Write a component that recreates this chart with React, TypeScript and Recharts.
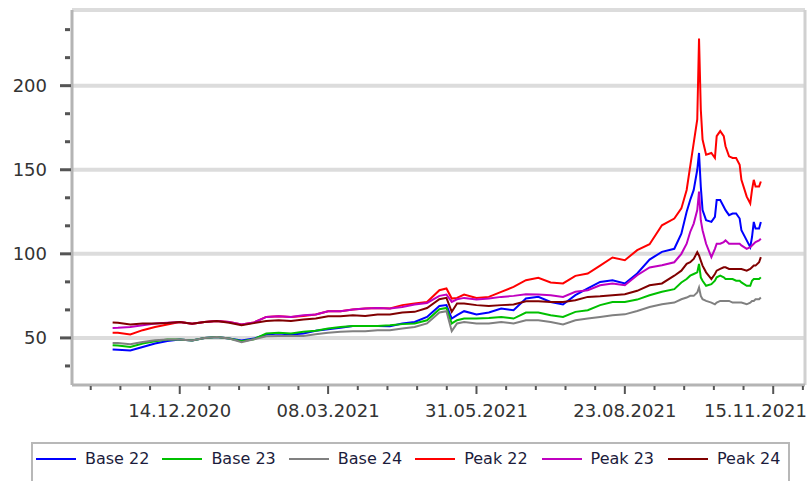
import { Line, LineChart, ReferenceLine, XAxis, YAxis } from "recharts";

// trading dates (dd.mm.yyyy), weekly until mid-September, denser around the October spike
const dates = [
  "06.11.2020", "09.11.2020", "16.11.2020", "23.11.2020", "30.11.2020", "07.12.2020",
  "14.12.2020", "21.12.2020", "28.12.2020", "04.01.2021", "11.01.2021", "18.01.2021",
  "25.01.2021", "01.02.2021", "08.02.2021", "15.02.2021", "22.02.2021", "01.03.2021",
  "08.03.2021", "15.03.2021", "22.03.2021", "29.03.2021", "05.04.2021", "12.04.2021",
  "19.04.2021", "26.04.2021", "03.05.2021", "10.05.2021", "14.05.2021", "17.05.2021",
  "20.05.2021", "24.05.2021", "31.05.2021", "07.06.2021", "14.06.2021", "21.06.2021",
  "28.06.2021", "05.07.2021", "12.07.2021", "19.07.2021", "26.07.2021", "02.08.2021",
  "09.08.2021", "16.08.2021", "23.08.2021", "30.08.2021", "06.09.2021", "13.09.2021",
  "20.09.2021", "24.09.2021", "27.09.2021", "29.09.2021", "01.10.2021", "03.10.2021",
  "04.10.2021", "05.10.2021", "06.10.2021", "08.10.2021", "11.10.2021", "13.10.2021",
  "14.10.2021", "16.10.2021", "18.10.2021", "19.10.2021", "21.10.2021", "23.10.2021",
  "25.10.2021", "27.10.2021", "28.10.2021", "31.10.2021", "02.11.2021", "03.11.2021",
  "04.11.2021", "05.11.2021", "07.11.2021", "08.11.2021",
];

const base22 = [
  43.1, 43, 42.5, 44.6, 46.7, 48.2, 49, 48.5, 50, 50.6, 49.6, 48.5,
  49.6, 52, 52.6, 52, 52.6, 54.2, 55.2, 56, 57.1, 57.1, 57.1, 57,
  58.6, 59.5, 62.5, 69, 69.5, 61.5, 63.5, 65.9, 63.9, 65.1, 67.5, 66.5,
  73.4, 74.4, 71.4, 69.9, 75.4, 79.4, 83.3, 84.3, 82.4, 88.3, 96.6, 101.2,
  103, 112, 125, 132, 138, 150, 160, 140, 126, 120, 119, 122,
  132, 132, 128, 126, 123, 124, 124, 121, 114, 108, 104, 110,
  119, 115, 115, 119,
];

const base23 = [
  45.7, 45.5, 44.6, 46.7, 48, 49, 49, 48.5, 50, 50.6, 49.6, 48,
  49.2, 52.6, 53, 52.6, 53.6, 54.2, 55.6, 56.5, 57.1, 57.1, 57.1, 57.5,
  58.2, 58.6, 60.5, 67.1, 67.8, 58.6, 60.5, 61.5, 61.5, 61.9, 62.5, 61.5,
  65.1, 65.1, 63.5, 62.5, 65.5, 66.5, 69.5, 71.4, 71.4, 72.8, 75.4, 77.4,
  79, 83, 85, 87, 88, 89, 94, 86, 84, 81, 82, 84,
  86, 87, 86, 85, 85, 85, 84, 84, 83, 81, 81, 84,
  85, 85, 85, 86,
];

const base24 = [
  47, 47, 46.3, 47.6, 48.6, 49, 49, 48.5, 50, 50.6, 49.6, 47.5,
  49.2, 51, 51.2, 51.2, 51.2, 52.2, 53, 53.6, 54, 54, 54.6, 54.6,
  55.6, 56.5, 58.6, 65.1, 65.9, 54, 58.6, 59.5, 58.6, 58.6, 59.5, 58.6,
  60.5, 60.5, 59.5, 58, 60.5, 61.5, 62.5, 63.5, 64, 66, 68.4, 70,
  71, 73, 74, 75, 75, 77, 80, 75, 73, 72, 71, 70,
  71, 72, 72, 72, 72, 71, 71, 71, 71, 70, 71, 72,
  72, 73, 73, 74,
];

const peak22 = [
  53, 53, 52, 54.6, 56.5, 58, 59.5, 58.5, 59.5, 60.1, 59.5, 58,
  59.2, 62.5, 62.9, 62.5, 63, 63.9, 65.9, 65.9, 66.9, 67.5, 67.8, 67.5,
  69.5, 70.5, 71.4, 78.4, 79.4, 73.4, 73.8, 75.8, 73.8, 74.4, 77.4, 80.3,
  84.3, 85.7, 83, 82.4, 86.9, 88.3, 93, 97.8, 96.2, 102.2, 105.7, 117,
  121, 127, 138, 152, 166, 180, 228, 186, 168, 159, 160, 157,
  170, 173, 170, 164, 158, 157, 157, 153, 144, 134, 130, 138,
  144, 140, 140, 143,
];

const peak23 = [
  55.9, 56, 56.5, 57.5, 58.6, 59, 59.5, 58.5, 59.5, 60.1, 59.5, 58,
  59.2, 62.5, 62.9, 62.5, 63.5, 63.9, 65.9, 65.9, 66.9, 67.5, 67.8, 67.5,
  68.4, 69.9, 70.8, 75, 75.8, 71.4, 73, 73.8, 72.8, 73.4, 74.4, 75,
  76, 75.8, 75.4, 74.4, 77.4, 78.4, 81.3, 82.4, 81.3, 87.3, 91.9, 93.2,
  95, 100, 106, 113, 118, 126, 137, 120, 114, 106, 98, 103,
  106, 106, 107, 108, 106, 106, 106, 106, 105, 103, 104, 105,
  106, 107, 108, 109,
];

const peak24 = [
  59.2, 59, 58, 58.6, 58.6, 58.8, 59.5, 58.5, 59.5, 60.1, 59, 57.5,
  58.8, 60.1, 60.5, 60.1, 61, 61.5, 62.9, 62.9, 63.5, 63.1, 63.9, 63.9,
  65.1, 65.5, 67.8, 73, 73.8, 65.5, 70.5, 70.5, 69.5, 69, 69.5, 69.9,
  71.8, 71.8, 71.4, 71.4, 72.4, 74.4, 74.8, 75.4, 76, 78, 81.3, 82.4,
  87, 90, 94, 95, 97, 101, 99, 96, 93, 89, 85, 88,
  90, 91, 92, 92, 91, 91, 91, 91, 91, 90, 91, 92,
  93, 93, 95, 98,
];

const xLabelDates = ["14.12.2020", "08.03.2021", "31.05.2021", "23.08.2021", "15.11.2021"];
const yLabels = [50, 100, 150, 200];

const series = [
  { key: "base22", name: "Base 22", color: "#0000ff", values: base22 },
  { key: "base23", name: "Base 23", color: "#00c000", values: base23 },
  { key: "base24", name: "Base 24", color: "#808080", values: base24 },
  { key: "peak22", name: "Peak 22", color: "#ff0000", values: peak22 },
  { key: "peak23", name: "Peak 23", color: "#c000c0", values: peak23 },
  { key: "peak24", name: "Peak 24", color: "#800000", values: peak24 },
];

const DAY = 86400000;
const FONT = "'DejaVu Sans', Verdana, sans-serif";

function toTime(s: string) {
  const [d, m, y] = s.split(".").map(Number);
  return Date.UTC(y, m - 1, d);
}

function fmt(t: number) {
  const d = new Date(t);
  const dd = String(d.getUTCDate()).padStart(2, "0");
  const mm = String(d.getUTCMonth() + 1).padStart(2, "0");
  return `${dd}.${mm}.${d.getUTCFullYear()}`;
}

const rows = dates.map((d, i) => {
  const row: Record<string, number> = { t: toTime(d) };
  series.forEach((s) => (row[s.key] = s.values[i]));
  return row;
});

const xMin = toTime("14.10.2020");
const xMax = toTime("03.12.2021");
const yMin = 22;
const yMax = 245;

// minor ticks: 5 per labelled interval on x, 3 per 50 on y
const majorTimes = xLabelDates.map(toTime);
const xStep = (84 * DAY) / 5;
const xTicks: number[] = [];
for (let t = majorTimes[0] - 4 * xStep; t <= xMax; t += xStep) {
  if (t >= xMin) xTicks.push(Math.round(t));
}
const isMajorX = (t: number) => majorTimes.some((m) => Math.abs(m - t) < DAY / 2);

const yTicks: number[] = [];
for (let v = 50 - 50 / 3; v < yMax; v += 50 / 3) yTicks.push(Math.round(v * 100) / 100);
const isMajorY = (v: number) => yLabels.some((l) => Math.abs(l - v) < 0.1);

function XTick(props: any) {
  const { x, y, payload } = props;
  const major = isMajorX(payload.value);
  const overflow = x + 52 > 808;
  return (
    <g>
      <line x1={x} x2={x} y1={y + 1} y2={y + (major ? 9 : 5)} stroke="#555" strokeWidth={2} />
      {major && (
        <text
          x={overflow ? 807 : x}
          y={y + 32}
          textAnchor={overflow ? "end" : "middle"}
          fontSize={18}
          fontFamily={FONT}
          fill="#333"
        >
          {fmt(payload.value)}
        </text>
      )}
    </g>
  );
}

function YTick(props: any) {
  const { x, y, payload } = props;
  const major = isMajorY(payload.value);
  return (
    <g>
      <rect x={x - (major ? 12 : 7)} y={y - 1.5} width={major ? 11 : 5} height={3} fill="#555" />
      {major && (
        <text x={x - 25} y={y + 6.5} textAnchor="end" fontSize={18} fontFamily={FONT} fill="#333">
          {Math.round(payload.value)}
        </text>
      )}
    </g>
  );
}

export default function App() {
  return (
    <div
      style={{
        position: "absolute",
        left: 0,
        top: 0,
        width: 810,
        height: 481,
        background: "#fff",
        overflow: "hidden",
      }}
    >
      <LineChart width={810} height={481} data={rows} margin={{ top: 10, right: 5, left: 0, bottom: 56 }}>
        <ReferenceLine y={yMax} stroke="#dcdcdc" strokeWidth={4} />
        {yLabels.map((v) => (
          <ReferenceLine key={v} y={v} stroke="#dcdcdc" strokeWidth={4} />
        ))}
        <ReferenceLine x={xMax} stroke="#d0d0d0" strokeWidth={3} />
        <XAxis
          dataKey="t"
          type="number"
          domain={[xMin, xMax]}
          ticks={xTicks}
          interval={0}
          height={40}
          tickSize={0}
          tickMargin={0}
          tickLine={false}
          tick={<XTick />}
          axisLine={{ stroke: "#b4b4b4", strokeWidth: 3 }}
          allowDataOverflow
        />
        <YAxis
          type="number"
          domain={[yMin, yMax]}
          ticks={yTicks}
          interval={0}
          width={72}
          tickSize={0}
          tickMargin={0}
          tickLine={false}
          tick={<YTick />}
          axisLine={{ stroke: "#b4b4b4", strokeWidth: 3 }}
          allowDataOverflow
        />
        {series.map((s) => (
          <Line
            key={s.key}
            dataKey={s.key}
            name={s.name}
            stroke={s.color}
            strokeWidth={2}
            dot={false}
            type="linear"
            isAnimationActive={false}
          />
        ))}
      </LineChart>
      <div
        style={{
          position: "absolute",
          left: 31,
          top: 442,
          width: 759,
          height: 60,
          border: "2px solid #b8b8b8",
          boxSizing: "border-box",
          fontFamily: FONT,
          fontSize: 16,
          color: "#1c1c3c",
        }}
      >
        {series.map((s, i) => (
          <div
            key={s.key}
            style={{
              position: "absolute",
              left: 3 + i * 126.4,
              top: 5,
              display: "flex",
              alignItems: "center",
              whiteSpace: "nowrap",
            }}
          >
            <span style={{ display: "inline-block", width: 40, height: 2, background: s.color, marginRight: 9 }} />
            <span>{s.name}</span>
          </div>
        ))}
      </div>
    </div>
  );
}
